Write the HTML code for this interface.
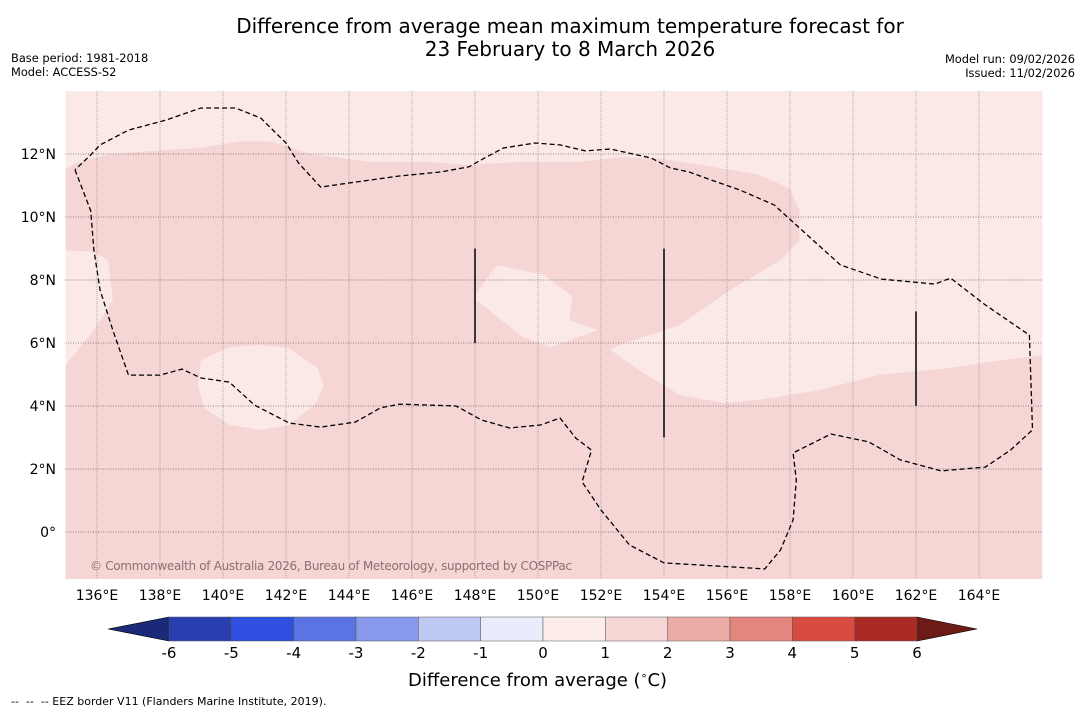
<!DOCTYPE html>
<html><head><meta charset="utf-8">
<style>
body{margin:0;background:#fff;font-family:"DejaVu Sans","Liberation Sans",sans-serif;}
#wrap{position:relative;width:1085px;height:713px;overflow:hidden;background:#fff}
.t{position:absolute;white-space:nowrap;color:#000}
</style></head>
<body>
<div id="wrap">
<div class="t" style="left:0;width:1140px;top:15px;text-align:center;font-size:20px;line-height:23px">Difference from average mean maximum temperature forecast for<br>23 February to 8 March 2026</div>
<div class="t" style="left:11px;top:51px;font-size:11.4px;line-height:14px">Base period: 1981-2018<br>Model: ACCESS-S2</div>
<div class="t" style="right:10px;top:52px;font-size:11.4px;line-height:14px;text-align:right">Model run: 09/02/2026<br>Issued: 11/02/2026</div>
<svg id="svg" width="1085" height="713" style="position:absolute;left:0;top:0"></svg>
<div class="t" style="left:408px;top:669px;font-size:18px">Difference from average (<sup style="font-size:11px">∘</sup>C)</div>
<div class="t" style="left:11px;top:695px;font-size:11px">--&nbsp; --&nbsp; -- EEZ border V11 (Flanders Marine Institute, 2019).</div>
</div>
<script>
const lonTicks=[136,138,140,142,144,146,148,150,152,154,156,158,160,162,164];
const latTicks=[0,2,4,6,8,10,12];
const cbLevels=[-6,-5,-4,-3,-2,-1,0,1,2,3,4,5,6];
const cbColors=["#2a3faf","#2e4fdf","#5a74e3","#8898ea","#bfc8f3","#e9ecfa","#fcecea","#f5d6d4","#ebaca7","#e4857e","#d84b41","#a92b24"];
const cbLow="#1b2a78",cbHigh="#6d1b16";
const pinkRegion=[[135,11.5],[135.3,11.7],[136.4,12.0],[139.3,12.2],[140.5,12.4],[141.5,12.4],[142.8,12.0],[144.7,11.75],[146.6,11.75],[147.8,11.65],[149.4,11.75],[151.3,11.75],[152.6,11.9],[153.9,11.85],[155.2,11.65],[157,11.35],[158,10.9],[158.3,10.2],[158.3,9.27],[157.7,8.63],[156.1,7.68],[154.5,6.57],[152.6,5.94],[152.3,5.78],[153.2,5.14],[154.5,4.35],[155.9,4.1],[157,4.19],[158.9,4.5],[160.8,4.98],[163,5.2],[164.7,5.45],[166,5.62],[166,-1.6],[135,-1.6],[135,5.3],[135.9,6.4],[136.5,7.37],[136.35,8.63],[135.9,8.9],[135,8.95]];
const blob1=[[139.3,5.46],[140.2,5.87],[141.2,5.94],[142.1,5.84],[143.0,5.2],[143.2,4.67],[142.9,4.03],[142.1,3.4],[141.2,3.24],[140.2,3.4],[139.4,3.94],[139.2,4.67]];
const blob2=[[148.0,7.52],[148.7,8.48],[150.2,8.16],[151.1,7.46],[151.0,6.73],[151.9,6.41],[150.4,5.87],[149.5,6.2],[148.0,7.4]];
const eez=[[135.3,11.5],[135.8,10.2],[135.9,8.95],[136.1,7.68],[136.5,6.41],[137.0,4.98],[138.0,4.98],[138.7,5.17],[139.3,4.89],[140.2,4.76],[141.0,4.03],[142.1,3.46],[143.1,3.33],[144.2,3.49],[145.0,3.94],[145.6,4.06],[147.4,4.0],[148.2,3.56],[149.1,3.3],[150.1,3.4],[150.7,3.62],[151.2,2.98],[151.7,2.6],[151.4,1.59],[152.0,0.7],[152.9,-0.41],[154.0,-0.98],[157.2,-1.17],[157.7,-0.57],[158.1,0.38],[158.2,1.65],[158.1,2.51],[159.3,3.11],[160.5,2.86],[161.5,2.29],[162.8,1.94],[164.2,2.06],[165.0,2.6],[165.7,3.24],[165.6,6.25],[164.2,7.21],[163.1,8.06],[162.6,7.87],[160.9,8.03],[159.6,8.48],[158.3,9.65],[157.5,10.38],[156.4,10.86],[155.5,11.17],[154.8,11.43],[154.2,11.56],[153.6,11.87],[152.3,12.16],[151.5,12.1],[150.7,12.29],[149.9,12.35],[148.9,12.19],[148.3,11.87],[147.8,11.59],[146.9,11.43],[145.6,11.3],[144.0,11.08],[143.1,10.95],[142.4,11.71],[142.0,12.35],[141.2,13.14],[140.4,13.46],[139.3,13.46],[138.2,13.08],[137.0,12.76],[136.1,12.29],[135.8,11.97],[135.3,11.5]];
const solidLines=[[148,9,6],[154,9,3],[162,7,4]];

const NS="http://www.w3.org/2000/svg";
const svg=document.getElementById('svg');
const X0=65.5,Y0=91,S=31.5,W=977,H=488;
const x=lon=>X0+(lon-135)*S;
const y=lat=>Y0+(14-lat)*S;
function el(t,a,p){const e=document.createElementNS(NS,t);for(const k in a)e.setAttribute(k,a[k]);(p||svg).appendChild(e);return e;}
const pts=a=>a.map(p=>x(p[0]).toFixed(1)+','+y(p[1]).toFixed(1)).join(' ');

const defs=el('defs',{});const cp=el('clipPath',{id:'mc'},defs);el('rect',{x:X0,y:Y0,width:W,height:H},cp);
const g=el('g',{'clip-path':'url(#mc)'});


const bg=el('rect',{x:X0,y:Y0,width:W,height:H,fill:'#fbe9e7'},g);


const pr=el('polygon',{points:pts(pinkRegion),fill:'#f5d6d4'},g);


[blob1,blob2].forEach((b,i)=>{const p=el('polygon',{points:pts(b),fill:'#fbe9e7'},g);

});
lonTicks.forEach(l=>{const ln=el('line',{x1:x(l),x2:x(l),y1:Y0,y2:Y0+H,stroke:'#999','stroke-width':0.8,'stroke-dasharray':'1,1'},g);


const t=el('text',{x:x(l),y:600,'font-size':14,'text-anchor':'middle','font-family':'DejaVu Sans, sans-serif'});t.textContent=l+'°E';

});
latTicks.forEach(l=>{const ln=el('line',{x1:X0,x2:X0+W,y1:y(l),y2:y(l),stroke:'#666','stroke-width':0.7,'stroke-dasharray':'1,1.5'},g);


const t=el('text',{x:56,y:y(l)+5,'font-size':14,'text-anchor':'end','font-family':'DejaVu Sans, sans-serif'});t.textContent=l===0?'0°':l+'°N';

});
const ez=el('polyline',{points:pts(eez),fill:'none',stroke:'#000','stroke-width':1.3,'stroke-dasharray':'5,3'},g);


solidLines.forEach(s=>{const ln=el('line',{x1:x(s[0]),x2:x(s[0]),y1:y(s[1]),y2:y(s[2]),stroke:'#000','stroke-width':1.5},g);

});
const wm=el('text',{x:90,y:570,'font-size':12,fill:'#8a7070','font-family':'DejaVu Sans, sans-serif',textLength:482},g);
wm.textContent='© Commonwealth of Australia 2026, Bureau of Meteorology, supported by COSPPac';



// colorbar
const CB0=169,CB1=917,CY=617,CH=24;
const cx=v=>CB0+(v-cbLevels[0])/(cbLevels[cbLevels.length-1]-cbLevels[0])*(CB1-CB0);
const cg=el('g',{});


const lo=el('polygon',{points:`${CB0},${CY} ${108},${CY+CH/2} ${CB0},${CY+CH}`,fill:cbLow,stroke:'#000','stroke-width':0.6},cg);


const hi=el('polygon',{points:`${CB1},${CY} ${977},${CY+CH/2} ${CB1},${CY+CH}`,fill:cbHigh,stroke:'#000','stroke-width':0.6},cg);


cbColors.forEach((c,i)=>{const r=el('rect',{x:cx(cbLevels[i]),y:CY,width:cx(cbLevels[i+1])-cx(cbLevels[i]),height:CH,fill:c,stroke:'#555','stroke-width':0.5},cg);

});
cbLevels.forEach(v=>{const t=el('text',{x:cx(v),y:658,'font-size':15,'text-anchor':'middle','font-family':'DejaVu Sans, sans-serif'},cg);t.textContent=v;

});
</script>
</body></html>
